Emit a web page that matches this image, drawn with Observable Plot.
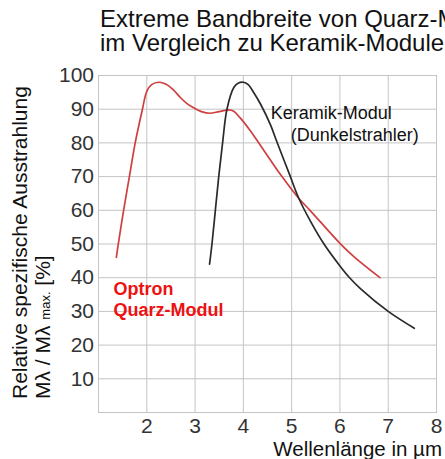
<!DOCTYPE html>
<html><head><meta charset="utf-8">
<script src="https://cdn.jsdelivr.net/npm/d3@7"></script>
<script src="https://cdn.jsdelivr.net/npm/@observablehq/plot@0.6"></script>
<style>
html,body{margin:0;padding:0;background:#fff;overflow:hidden;}
#wrap{position:relative;width:445px;height:459px;overflow:hidden;font-family:"Liberation Sans",Arial,sans-serif;}
#title{position:absolute;left:100px;top:6.5px;font-size:24px;line-height:24.4px;color:#111;white-space:nowrap;}
#chart{position:absolute;left:0;top:0;}
</style></head><body>
<div id="wrap"><div id="chart"></div><div id="title">Extreme Bandbreite von Quarz-Modulen<br>im Vergleich zu Keramik-Modulen</div></div>
<script>
// Optron Quarz-Modul (red)
const quarzX = [1.37, 1.41, 1.52, 1.64, 1.76, 1.91, 2.0, 2.1, 2.25, 2.4, 2.56, 2.7, 2.84, 3.0, 3.15, 3.3, 3.5, 3.7, 3.8, 3.93, 4.14, 4.32, 4.8, 5.15, 5.38, 6.0, 6.3, 6.83];
const quarzY = [46, 50, 60, 70, 80, 90, 95.3, 97.3, 98, 97.4, 95.6, 93.4, 91.6, 90.2, 89.2, 88.8, 89.3, 89.8, 89.4, 87.5, 83.7, 80, 70, 63.5, 60, 50.2, 46.1, 40];
// Keramik-Modul (Dunkelstrahler) (black)
const keramikX = [3.30, 3.35, 3.42, 3.49, 3.57, 3.66, 3.805, 3.9, 4.0, 4.1, 4.22, 4.36, 4.56, 4.69, 4.96, 5.15, 5.4, 5.67, 6.0, 6.2, 6.43, 7.0, 7.54];
const keramikY = [44, 50, 60, 70, 80, 90, 96.5, 97.8, 98, 97.3, 94.8, 91.4, 85.4, 80.5, 70.5, 63.5, 56.5, 50, 43.5, 40, 36.7, 30, 25];
const xTicks = [2, 3, 4, 5, 6, 7, 8];
const yTicks = [10, 20, 30, 40, 50, 60, 70, 80, 90, 100];
const labels = [
  {x: 4.565, y: 87.0, text: "Keramik-Modul", color: "#111", weight: "normal"},
  {x: 4.98, y: 80.6, text: "(Dunkelstrahler)", color: "#111", weight: "normal"},
  {x: 1.31, y: 28.5, text: "Optron\nQuarz-Modul", color: "#ee1111", weight: "bold"}
];

const quarz = quarzX.map((x, i) => ({x, y: quarzY[i]}));
const keramik = keramikX.map((x, i) => ({x, y: keramikY[i]}));
const font = "Liberation Sans, Arial, sans-serif";

const svg = Plot.plot({
  width: 445, height: 459,
  marginLeft: 98, marginRight: 9, marginTop: 75, marginBottom: 47,
  style: {fontFamily: font, background: "transparent", overflow: "visible"},
  x: {domain: [1, 8], ticks: xTicks},
  y: {domain: [0, 100], ticks: yTicks},
  marks: [
    Plot.gridX(xTicks, {stroke: "#c4c4c4", strokeOpacity: 1, strokeWidth: 1}),
    Plot.gridY(yTicks, {stroke: "#c4c4c4", strokeOpacity: 1, strokeWidth: 1}),
    Plot.frame({stroke: "#c4c4c4"}),
    Plot.axisX(xTicks, {tickSize: 0, tickPadding: 6, fontSize: 21, color: "#333", label: null}),
    Plot.axisY(yTicks, {tickSize: 0, tickPadding: 4.5, fontSize: 21, color: "#333", label: null}),
    Plot.line(quarz, {x: "x", y: "y", stroke: "#cf3f3f", strokeWidth: 1.7, curve: "catmull-rom"}),
    Plot.line(keramik, {x: "x", y: "y", stroke: "#2a2a2a", strokeWidth: 1.7, curve: "catmull-rom"}),
    Plot.text(labels.filter(d => d.weight === "normal"), {x: "x", y: "y", text: "text", fill: "color", fontSize: 18, textAnchor: "start", lineAnchor: "bottom"}),
    Plot.text(labels.filter(d => d.weight === "bold"), {x: "x", y: "y", text: "text", fill: "color", fontSize: 18, fontWeight: "bold", textAnchor: "start", lineAnchor: "bottom", lineHeight: 1.17})
  ]
});

const s = d3.select(svg);
// y-axis label (two lines, with small "max.")
const yl = s.append("text")
  .attr("transform", "translate(27,399) rotate(-90)")
  .attr("text-anchor", "start")
  .attr("font-size", 21).attr("fill", "#111")
  .attr("font-family", font)
  .style("white-space", "pre");
yl.append("tspan").attr("x", 0).attr("y", 0).text("Relative spezifische Ausstrahlung");
yl.append("tspan").attr("x", 0).attr("y", 23).text("Mλ / Mλ ");
yl.append("tspan").attr("font-size", 13).text("max.");
yl.append("tspan").text(" [%]");
// x-axis label
s.append("text")
  .attr("x", 442).attr("y", 455.5)
  .attr("text-anchor", "end")
  .attr("font-size", 20.5).attr("fill", "#111")
  .attr("font-family", font)
  .text("Wellenlänge in µm");

document.getElementById("chart").appendChild(svg);
</script>
</body></html>
